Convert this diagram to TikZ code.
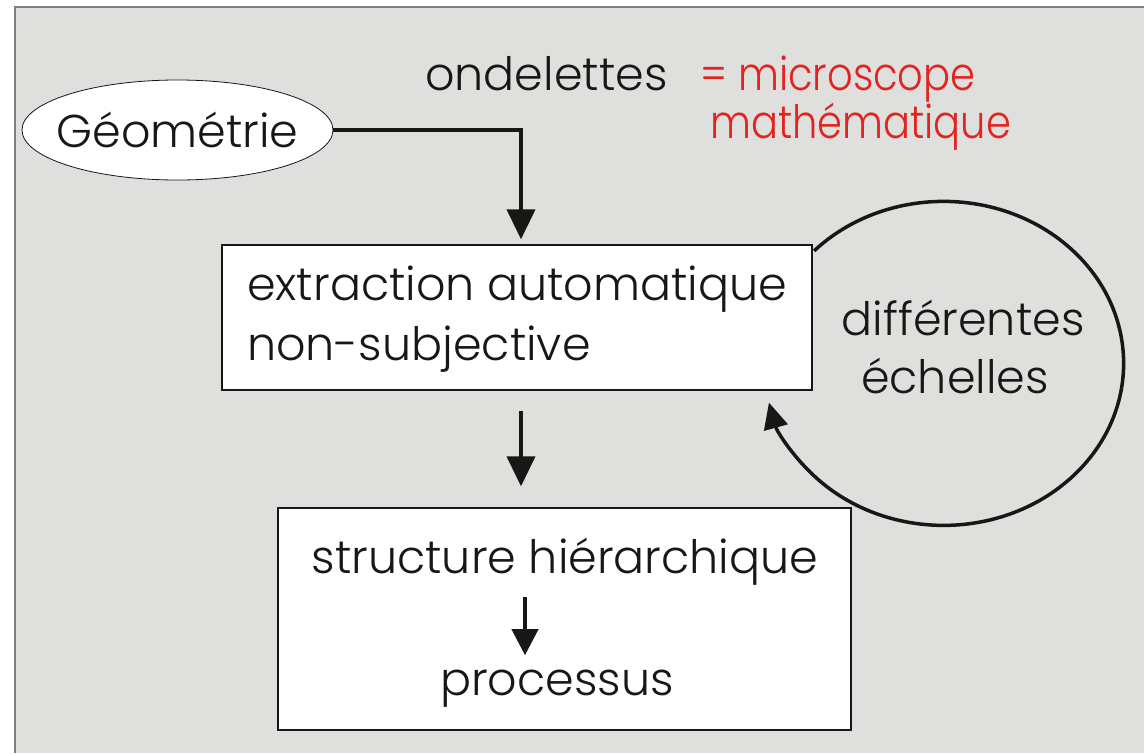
\documentclass[tikz,border=0pt]{standalone}
\usepackage{fontspec}
\IfFontExistsTF{Poppins Light}{\setmainfont{Poppins Light}}{\setmainfont{Poppins}}
\usetikzlibrary{shapes.geometric,arrows.meta,calc}
\definecolor{panelgray}{RGB}{223,223,221}
\definecolor{panelline}{RGB}{128,128,128}
\definecolor{notered}{RGB}{226,35,30}
\definecolor{ink}{RGB}{25,22,22}
\tikzset{
  txt/.style={inner sep=0pt, text=ink, font=\fontsize{46}{56}\selectfont},
  redtxt/.style={inner sep=0pt, text=notered,
                 font=\fontsize{46}{56}\selectfont\addfontfeature{FakeStretch=0.87}},
  whitebox/.style={draw=ink, fill=white, line width=1.3pt, inner sep=0pt},
  flow/.style={draw=ink, line width=4pt, -{Triangle[width=28pt,length=30pt]}},
  smallflow/.style={draw=ink, line width=4pt, -{Triangle[width=26pt,length=26pt]}},
  loopflow/.style={draw=ink, line width=3.5pt, -{Triangle[width=24pt,length=26pt]}}
}
\begin{document}
\begin{tikzpicture}[x=1pt,y=-1pt]
  \useasboundingbox (0,0) rectangle (1144,753);
  % background panel
  \fill[white] (0,0) rectangle (1144,753);
  \fill[panelgray] (15,7) rectangle (1144,753);
  \draw[panelline, line width=2pt] (15,753) -- (15,7) -- (1144,7);

  % nodes
  \node[ellipse, draw=ink, fill=white, line width=0.8pt, minimum width=311pt,
        minimum height=100pt, inner sep=0pt] (geo) at (177.5,130) {};
  \node[txt] (geotxt) at (geo.center) {Géométrie};
  \node[whitebox, minimum width=590pt, minimum height=145pt] (extr) at (517,317.5) {};
  \node[txt, anchor=base west] (extrA) at (247,300) {extraction automatique};
  \node[txt, anchor=base west] (extrB) at (247,360) {non-subjective};
  \node[whitebox, minimum width=573pt, minimum height=222pt] (hier) at (564.5,619) {};
  \node[txt, anchor=base] (struct) at (565,573) {structure hiérarchique};
  \node[txt, anchor=base] (proc) at (557,695) {processus};

  \node[txt, anchor=base west] (ond) at (425,90) {ondelettes};
  \node[redtxt, anchor=base west] (micro) at (700,90) {= microscope};
  \node[redtxt, anchor=base west] (math) at (710,138) {mathématique};

  \node[txt, anchor=base] (diff) at (963,335) {différentes};
  \node[txt, anchor=base] (ech) at (955,393) {échelles};

  % connectors
  \coordinate (bend) at (521,130);
  \draw[flow, shorten >=5pt] (geo.east) -- (bend) -- (bend |- extr.north);
  \draw[flow, shorten <=20pt, shorten >=21pt] (extr.south -| bend) -- (hier.north -| bend);
  \coordinate (sx) at (525,0);
  \draw[smallflow, shorten <=12pt, shorten >=14pt] (struct.south -| sx) -- (proc.north -| sx);

  % loop around the scales label
  \coordinate (loopstart) at ($(extr.north east)+(1.5,6.5)$);
  \draw[loopflow] (loopstart) arc[start angle=-136, end angle=166, x radius=180, y radius=162];
\end{tikzpicture}
\end{document}
